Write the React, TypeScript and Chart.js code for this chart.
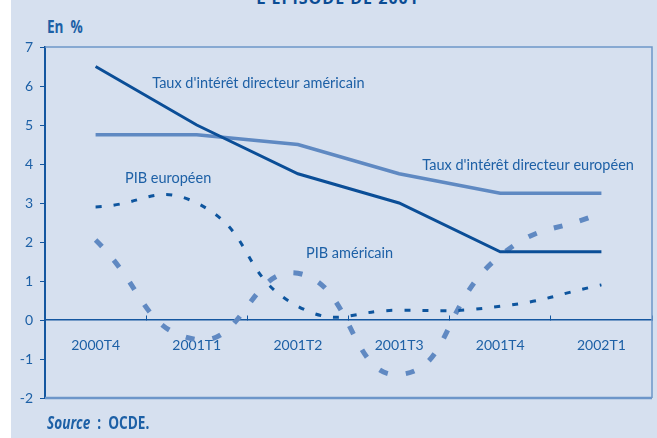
import React, { useEffect, useRef } from "react";
import { Chart, registerables } from "chart.js";

Chart.register(...registerables);

const categories = ["2000T4", "2001T1", "2001T2", "2001T3", "2001T4", "2002T1"];
const tauxAmericain = [6.5, 5.0, 3.75, 3.0, 1.75, 1.75];
const tauxEuropeen = [4.75, 4.75, 4.5, 3.75, 3.25, 3.25];
const pibEuropeen = [2.9, 3.0, 0.35, 0.25, 0.35, 0.9];
const pibAmericain = [2.05, -0.5, 1.2, -1.4, 1.65, 2.75];
const yMin = -2;
const yMax = 7;

const seriesLabels = [
  "Taux d'intérêt directeur américain",
  "Taux d'intérêt directeur européen",
  "PIB européen",
  "PIB américain",
];
// anchor: [category index, value] for each in-chart label (left aligned)
const labelAnchors: [number, number][] = [
  [0.56, 6.08],
  [3.23, 3.97],
  [0.29, 3.62],
  [2.08, 1.72],
];

const TEXT = "#1D60A6";
const AXIS = "#1457A0";
const FRAME = "#6D96C9";
const BG = "#D6E0EF";

const framePlugin = {
  id: "frame",
  beforeDatasetsDraw(chart: any) {
    const { ctx, chartArea: a } = chart;
    ctx.save();
    ctx.strokeStyle = FRAME;
    ctx.lineWidth = 1.5;
    ctx.beginPath();
    ctx.moveTo(a.left, a.top);
    ctx.lineTo(a.right, a.top);
    ctx.lineTo(a.right, a.bottom);
    ctx.stroke();
    ctx.lineWidth = 2.5;
    ctx.beginPath();
    ctx.moveTo(a.left, a.bottom);
    ctx.lineTo(a.right, a.bottom);
    ctx.stroke();
    ctx.restore();
  },
};

const labelPlugin = {
  id: "seriesLabels",
  afterDatasetsDraw(chart: any) {
    const { ctx } = chart;
    const xs = chart.scales.x;
    const ys = chart.scales.y;
    ctx.save();
    ctx.fillStyle = TEXT;
    ctx.font = "14.5px Lato";
    ctx.textAlign = "left";
    ctx.textBaseline = "middle";
    seriesLabels.forEach((t, i) => {
      const [ix, v] = labelAnchors[i];
      ctx.fillText(t, xs.getPixelForValue(ix), ys.getPixelForValue(v));
    });
    ctx.restore();
  },
};

export default function App() {
  const ref = useRef<HTMLCanvasElement>(null);
  useEffect(() => {
    const chart = new Chart(ref.current!, {
      type: "line",
      data: {
        labels: categories,
        datasets: [
          {
            label: seriesLabels[0],
            data: tauxAmericain,
            borderColor: "#0B4E97",
            borderWidth: 3,
            tension: 0,
            pointRadius: 0,
          },
          {
            label: seriesLabels[1],
            data: tauxEuropeen,
            borderColor: "#5F89C2",
            borderWidth: 3.5,
            tension: 0,
            pointRadius: 0,
          },
          {
            label: seriesLabels[2],
            data: pibEuropeen,
            borderColor: "#0E559E",
            borderWidth: 3,
            borderDash: [6, 12],
            tension: 0.5,
            pointRadius: 0,
          },
          {
            label: seriesLabels[3],
            data: pibAmericain,
            borderColor: "#6089C2",
            borderWidth: 5,
            borderDash: [9, 18],
            tension: 0.5,
            pointRadius: 0,
          },
        ],
      },
      options: {
        animation: false,
        responsive: false,
        layout: { padding: { top: 47, right: 5, bottom: 40, left: 0 } },
        plugins: { legend: { display: false }, tooltip: { enabled: false } },
        scales: {
          x: {
            type: "category",
            position: { y: 0 } as any,
            offset: true,
            grid: {
              offset: true,
              drawOnChartArea: false,
              tickLength: -5,
              color: AXIS,
              lineWidth: 1,
            },
            border: { color: AXIS, width: 1.5 },
            ticks: {
              color: TEXT,
              font: { family: "Lato", size: 14 },
              padding: 22,
              maxRotation: 0,
            },
          },
          y: {
            min: yMin,
            max: yMax,
            position: "left",
            afterFit: (s: any) => {
              s.width = 45;
            },
            grid: {
              drawOnChartArea: false,
              tickLength: 5,
              color: AXIS,
              lineWidth: 1,
            },
            border: { color: AXIS, width: 2 },
            ticks: {
              stepSize: 1,
              color: TEXT,
              font: { family: "Lato", size: 14 },
              padding: 7,
            },
          },
        },
      },
      plugins: [framePlugin, labelPlugin],
    });
    return () => chart.destroy();
  }, []);

  const cond = '"Open Sans", sans-serif';
  const narrow: React.CSSProperties = {
    position: "absolute",
    transform: "scaleX(0.8)",
    transformOrigin: "left center",
    whiteSpace: "pre",
    color: TEXT,
    fontFamily: cond,
    fontWeight: 700,
  };
  return (
    <div style={{ position: "fixed", left: 0, top: 0, width: 657, height: 438, background: "#fff", overflow: "hidden" }}>
      <div style={{ position: "absolute", left: 11, top: 0, width: 646, height: 438, background: BG }} />
      <div
        style={{
          position: "absolute",
          left: 0,
          width: 657,
          top: -10,
          textAlign: "center",
          paddingLeft: 18,
          boxSizing: "border-box",
          font: `bold 16px ${cond}`,
          letterSpacing: 1,
          lineHeight: "16px",
          color: "#0A4C94",
        }}
      >
        L'ÉPISODE DE 2001
      </div>
      <div style={{ ...narrow, left: 47, top: 16, fontSize: 17, lineHeight: "22px" }}>{"En  %"}</div>
      <canvas ref={ref} width={657} height={438} style={{ position: "absolute", left: 0, top: 0 }} />
      <div style={{ ...narrow, left: 47, top: 413, fontSize: 17, lineHeight: "20px" }}>
        <i>Source</i>
        {"  :  OCDE."}
      </div>
    </div>
  );
}
